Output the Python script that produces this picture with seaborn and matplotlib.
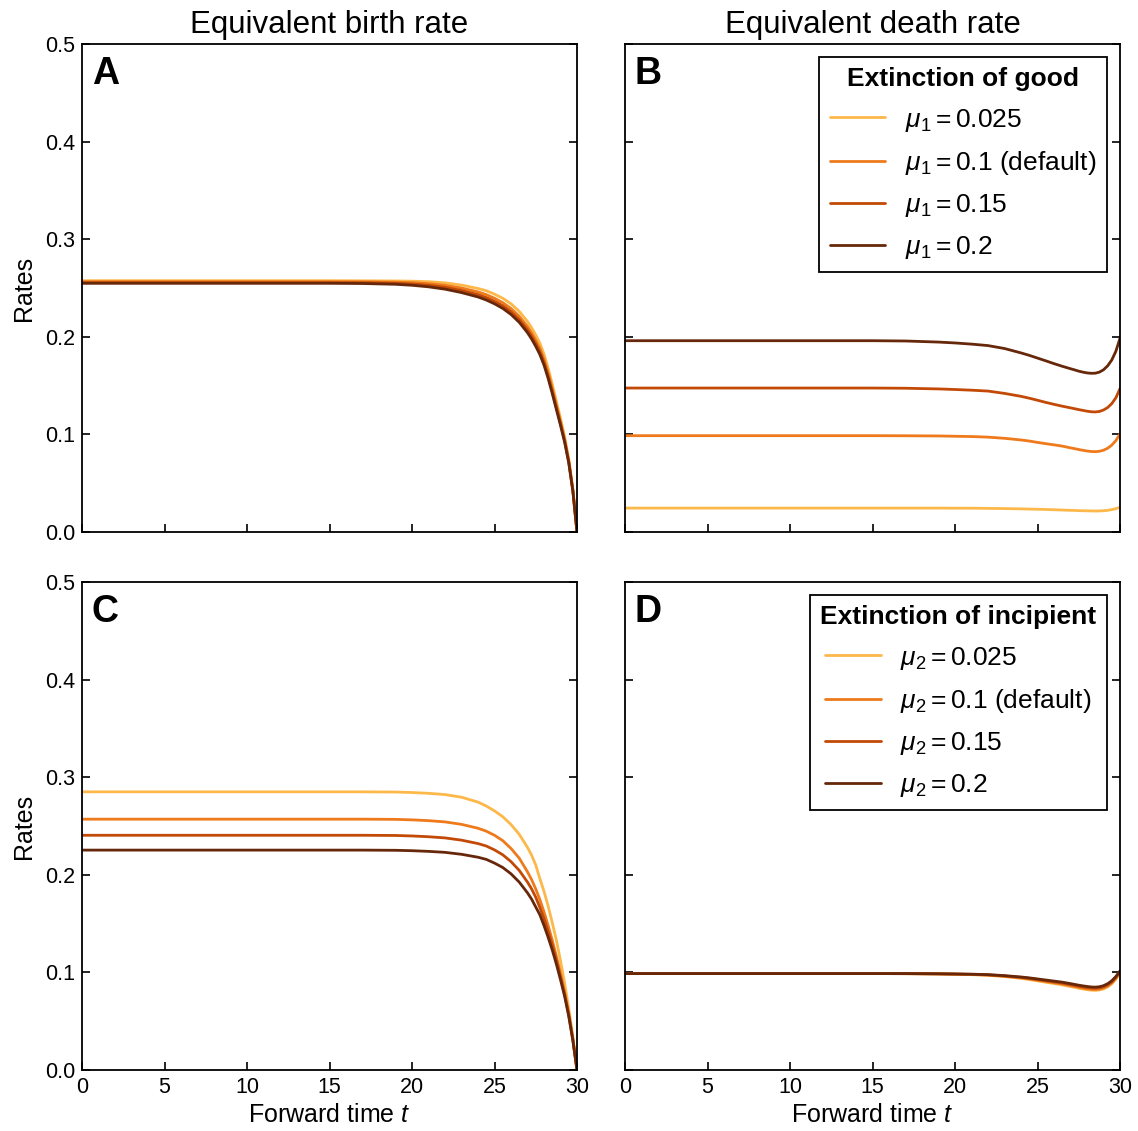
import numpy as np
import pandas as pd
import matplotlib
matplotlib.use("Agg")
import matplotlib.pyplot as plt
import seaborn as sns

# ---------------- data ----------------
t = [0, 15, 17, 19, 20, 21, 22, 23, 24, 24.5, 25, 25.5, 26, 26.5, 27, 27.25,
     27.5, 27.75, 28, 28.25, 28.5, 28.75, 29, 29.25, 29.5, 29.75, 30]

# Panel A: equivalent birth rate, varying mu1
A_y1 = [.2575, .2575, .2574, .2572, .2570, .2565, .2553, .2530, .2495, .2472, .2437, .2395, .2338, .2260,
        .2157, .2093, .2019, .1934, .1823, .1680, .1516, .1340, .1164, .0977, .0750, .0442, 0.0]
A_y2 = [.2565, .2565, .2564, .2560, .2555, .2545, .2528, .2500, .2460, .2432, .2395, .2350, .2290, .2210,
        .2105, .2040, .1965, .1880, .1770, .1630, .1470, .1300, .1130, .0950, .0730, .0430, 0.0]
A_y3 = [.2555, .2555, .2554, .2548, .2541, .2528, .2507, .2475, .2432, .2402, .2364, .2318, .2257, .2176,
        .2071, .2006, .1931, .1847, .1738, .1600, .1443, .1276, .1110, .0934, .0718, .0423, 0.0]
A_y4 = [.2548, .2548, .2546, .2538, .2528, .2512, .2488, .2453, .2408, .2377, .2338, .2291, .2229, .2148,
        .2042, .1977, .1902, .1818, .1710, .1574, .1419, .1255, .1092, .0920, .0708, .0417, 0.0]

# Panel B: equivalent death rate, varying mu1
B_y1 = [.0245, .0245, .0245, .0245, .0244, .0244, .0242, .0240, .0237, .0235, .0233, .0231, .0228, .0225,
        .0222, .0221, .0219, .0218, .0217, .0216, .0215, .0216, .0218, .0222, .0229, .0239, .0253]
B_y2 = [.0987, .0987, .0986, .0984, .0981, .0978, .0972, .0960, .0943, .0932, .0918, .0905, .0893, .0880,
        .0862, .0854, .0845, .0837, .0830, .0825, .0823, .0827, .0838, .0858, .0890, .0937, .1005]
B_y3 = [.1475, .1475, .1473, .1466, .1460, .1453, .1444, .1420, .1390, .1371, .1350, .1328, .1308, .1289,
        .1272, .1263, .1254, .1246, .1238, .1232, .1230, .1235, .1250, .1275, .1315, .1375, .1470]
B_y4 = [.1960, .1960, .1957, .1946, .1937, .1925, .1910, .1880, .1835, .1810, .1782, .1754, .1725, .1698,
        .1673, .1661, .1648, .1638, .1630, .1626, .1627, .1638, .1662, .1702, .1762, .1852, .1985]

# Panel C: equivalent birth rate, varying mu2
C_y1 = [.2850, .2850, .2850, .2848, .2843, .2835, .2822, .2795, .2745, .2705, .2655, .2595, .2515, .2415,
        .2280, .2200, .2100, .1960, .1830, .1680, .1510, .1330, .1120, .0890, .0630, .0340, 0.0]
C_y2 = [.2570, .2570, .2570, .2568, .2563, .2555, .2542, .2517, .2477, .2447, .2405, .2350, .2270, .2170,
        .2030, .1950, .1855, .1745, .1620, .1480, .1330, .1165, .0990, .0800, .0580, .0320, 0.0]
C_y3 = [.2405, .2405, .2405, .2403, .2398, .2390, .2378, .2355, .2320, .2295, .2255, .2205, .2135, .2045,
        .1925, .1855, .1770, .1665, .1550, .1420, .1280, .1125, .0955, .0775, .0565, .0310, 0.0]
C_y4 = [.2253, .2253, .2253, .2251, .2247, .2240, .2230, .2210, .2180, .2158, .2120, .2075, .2010, .1925,
        .1815, .1750, .1670, .1590, .1480, .1360, .1230, .1085, .0925, .0755, .0550, .0300, 0.0]

# Panel D: equivalent death rate, varying mu2
D_y1 = [.0988, .0988, .0987, .0984, .0981, .0977, .0970, .0957, .0939, .0927, .0913, .0899, .0886, .0872,
        .0855, .0847, .0838, .0830, .0823, .0818, .0816, .0820, .0831, .0851, .0883, .0930, .0998]
D_y2 = [.0988, .0988, .0987, .0985, .0982, .0979, .0973, .0961, .0944, .0933, .0920, .0907, .0894, .0881,
        .0864, .0856, .0847, .0839, .0832, .0827, .0825, .0829, .0840, .0860, .0892, .0938, .1005]
D_y3 = [.0988, .0988, .0987, .0985, .0983, .0980, .0975, .0964, .0949, .0939, .0927, .0915, .0903, .0891,
        .0875, .0867, .0859, .0851, .0845, .0840, .0838, .0842, .0853, .0873, .0904, .0949, .1010]
D_y4 = [.0988, .0988, .0988, .0986, .0984, .0982, .0977, .0967, .0953, .0944, .0933, .0922, .0911, .0900,
        .0885, .0877, .0869, .0862, .0856, .0851, .0849, .0853, .0864, .0884, .0914, .0958, .1015]

labels_mu1 = [r"$\mu_1 = 0.025$", r"$\mu_1 = 0.1$ (default)", r"$\mu_1 = 0.15$", r"$\mu_1 = 0.2$"]
labels_mu2 = [r"$\mu_2 = 0.025$", r"$\mu_2 = 0.1$ (default)", r"$\mu_2 = 0.15$", r"$\mu_2 = 0.2$"]
colors = ["#fdb84a", "#ee7a1c", "#c24a06", "#66270a"]

col_titles = ["Equivalent birth rate", "Equivalent death rate"]
panel_letters = ["A", "B", "C", "D"]
legend_titles = ["Extinction of good", "Extinction of incipient"]
yticks = [0.0, 0.1, 0.2, 0.3, 0.4, 0.5]
xticks = [0, 5, 10, 15, 20, 25, 30]

# ---------------- style ----------------
sns.set_theme(style="white")
plt.rcParams["font.family"] = ["Liberation Sans", "DejaVu Sans"]
plt.rcParams["mathtext.fontset"] = "custom"
plt.rcParams["mathtext.rm"] = "Liberation Sans"
plt.rcParams["mathtext.it"] = "Liberation Sans:italic"
plt.rcParams["mathtext.bf"] = "Liberation Sans:bold"
plt.rcParams["text.color"] = "black"
plt.rcParams["axes.labelcolor"] = "black"
plt.rcParams["xtick.color"] = "black"
plt.rcParams["ytick.color"] = "black"


def long_df(series, labels):
    rows = []
    for ys, lab in zip(series, labels):
        for tt, yy in zip(t, ys):
            rows.append({"t": tt, "rate": yy, "label": lab})
    return pd.DataFrame(rows)


panels = [
    ([A_y1, A_y2, A_y3, A_y4], labels_mu1),
    ([B_y1, B_y2, B_y3, B_y4], labels_mu1),
    ([C_y1, C_y2, C_y3, C_y4], labels_mu2),
    ([D_y1, D_y2, D_y3, D_y4], labels_mu2),
]

W, H = 1138, 1131
fig = plt.figure(figsize=(W / 100, H / 100), dpi=100)
lefts = [82, 625]
tops = [44, 582]
pw, ph = 495, 488

for i, (series, labels) in enumerate(panels):
    r, c = divmod(i, 2)
    ax = fig.add_axes([lefts[c] / W, 1 - (tops[r] + ph) / H, pw / W, ph / H])
    df = long_df(series, labels)
    sns.lineplot(data=df, x="t", y="rate", hue="label", hue_order=labels,
                 palette=colors, linewidth=2.0, ax=ax, legend=(c == 1))
    ax.set_xlim(0, 30)
    ax.set_ylim(0, 0.5)
    ax.set_xticks(xticks)
    ax.set_yticks(yticks)
    ax.tick_params(direction="in", length=6, width=1.2, top=False, right=True,
                   left=True, bottom=True, labelsize=15.5, colors="black", pad=5)
    for sp in ax.spines.values():
        sp.set_color("black")
        sp.set_linewidth(1.3)
    if c == 0:
        ax.set_yticklabels([f"{v:.1f}" for v in yticks])
        ax.set_ylabel("Rates", fontsize=18, labelpad=6)
    else:
        ax.set_yticklabels([])
        ax.set_ylabel("")
    if r == 1:
        ax.set_xticklabels([str(v) for v in xticks])
        ax.set_xlabel("Forward time $t$", fontsize=18, labelpad=4)
    else:
        ax.set_xticklabels([])
        ax.set_xlabel("")
        ax.set_title(col_titles[c], fontsize=22.5, pad=8)
    ax.text(0.02, 0.975, panel_letters[i], transform=ax.transAxes,
            fontsize=27, fontweight="bold", va="top", ha="left")
    if c == 1:
        handles, labs = ax.get_legend_handles_labels()
        leg = ax.legend(handles, labs, title=legend_titles[r], loc="upper right",
                        bbox_to_anchor=(0.974, 0.974), fontsize=19,
                        title_fontproperties={"weight": "bold", "size": 19},
                        frameon=True, fancybox=False, framealpha=1,
                        edgecolor="black", handlelength=2.1, handletextpad=0.75,
                        borderpad=0.4, labelspacing=0.58, borderaxespad=0.0)
        leg.get_frame().set_linewidth(1.3)
        for lh in leg.get_lines():
            lh.set_linewidth(2.0)

fig.savefig("out.png", dpi=100)
